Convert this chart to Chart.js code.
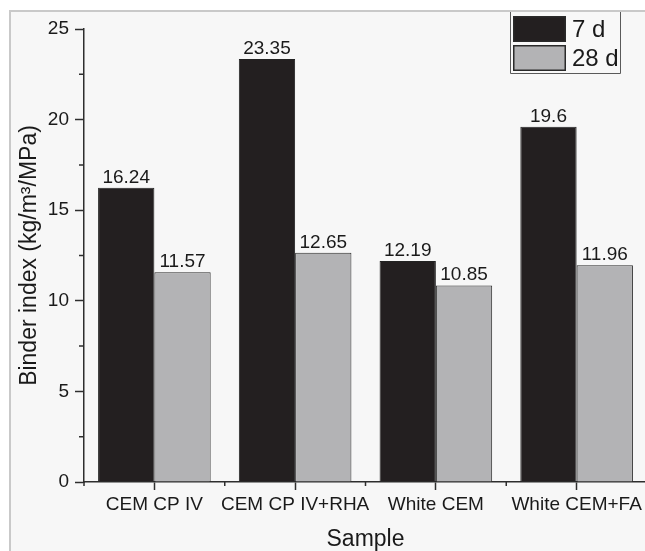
<!DOCTYPE html>
<html>
<head>
<meta charset="utf-8">
<script src="https://cdn.jsdelivr.net/npm/chart.js@4"></script>
<style>
  html, body { margin: 0; padding: 0; background: #ffffff; overflow: hidden; }
  #wrap { position: relative; width: 645px; height: 551px; overflow: hidden; }
  #frame {
    position: absolute; left: 9px; top: 10px; width: 640px; height: 545px;
    border-left: 2px solid #c9c9c9; border-top: 2px solid #c9c9c9;
    background: #f7f7f7;
  }
  #chart { position: absolute; left: 0; top: 0; }
</style>
</head>
<body>
<div id="wrap">
  <div id="frame"></div>
  <canvas id="chart" width="648" height="551"></canvas>
</div>
<script>
// Binder index per sample, at 7 and 28 days
const categories = ['CEM CP IV', 'CEM CP IV+RHA', 'White CEM', 'White CEM+FA'];
const seriesNames = ['7 d', '28 d'];
const values7d = [16.24, 23.35, 12.19, 19.6];
const values28d = [11.57, 12.65, 10.85, 11.96];
const yMin = 0, yMax = 25, yStep = 5;

const FONT = '"Liberation Sans", Arial, sans-serif';
const INK = '#1a1a1a';
const AXIS = '#2e2e2e';

// Minor ticks: category boundaries on x, half steps on y
const minorTicks = {
  id: 'minorTicks',
  afterDraw(chart) {
    const ctx = chart.ctx;
    const x = chart.scales.x, y = chart.scales.y;
    ctx.save();
    ctx.strokeStyle = AXIS;
    ctx.lineWidth = 1.5;
    ctx.beginPath();
    const n = categories.length;
    for (let i = 0; i < n; i++) {
      const px = i === 0 ? x.left : (x.getPixelForValue(i - 1) + x.getPixelForValue(i)) / 2;
      ctx.moveTo(px, y.bottom);
      ctx.lineTo(px, y.bottom + 4);
    }
    for (let v = yMin + yStep / 2; v < yMax; v += yStep) {
      const py = y.getPixelForValue(v);
      ctx.moveTo(y.right, py);
      ctx.lineTo(y.right - 5, py);
    }
    ctx.stroke();
    ctx.restore();
  }
};

// Value printed above each bar
const valueLabels = {
  id: 'valueLabels',
  afterDatasetsDraw(chart) {
    const ctx = chart.ctx;
    ctx.save();
    ctx.font = '19px ' + FONT;
    ctx.fillStyle = INK;
    ctx.textAlign = 'center';
    ctx.textBaseline = 'alphabetic';
    chart.data.datasets.forEach((ds, di) => {
      chart.getDatasetMeta(di).data.forEach((bar, i) => {
        ctx.fillText(String(ds.data[i]), bar.x, bar.y - 5);
      });
    });
    ctx.restore();
  }
};

// Boxed legend in the upper right of the plot
const boxLegend = {
  id: 'boxLegend',
  afterDraw(chart) {
    const ctx = chart.ctx;
    const left = 510, right = 620, top = 12, bottom = 73;
    ctx.save();
    ctx.fillStyle = '#f8f8f8';
    ctx.fillRect(left, top, right - left, bottom - top);
    ctx.strokeStyle = '#5a5a5a';
    ctx.lineWidth = 1;
    ctx.beginPath();
    ctx.moveTo(left + 0.5, top);
    ctx.lineTo(left + 0.5, bottom + 0.5);
    ctx.lineTo(right + 0.5, bottom + 0.5);
    ctx.lineTo(right + 0.5, top);
    ctx.stroke();
    ctx.font = '24px ' + FONT;
    ctx.textAlign = 'left';
    ctx.textBaseline = 'middle';
    chart.data.datasets.forEach((ds, i) => {
      const sy = 16 + i * 29;
      ctx.fillStyle = ds.backgroundColor;
      ctx.fillRect(513, sy, 53, 26);
      ctx.strokeStyle = '#2a2a2a';
      ctx.lineWidth = 1.5;
      ctx.strokeRect(513.75, sy + 0.75, 51.5, 24.5);
      ctx.fillStyle = INK;
      ctx.fillText(ds.label, 572, sy + 14);
    });
    ctx.restore();
  }
};

new Chart(document.getElementById('chart'), {
  type: 'bar',
  data: {
    labels: categories,
    datasets: [
      { label: seriesNames[0], data: values7d, backgroundColor: '#231f20', borderColor: '#222', borderWidth: 1 },
      { label: seriesNames[1], data: values28d, backgroundColor: '#b3b3b5', borderColor: '#2a2a2a', borderWidth: 1 }
    ]
  },
  options: {
    responsive: false,
    animation: false,
    devicePixelRatio: 1,
    layout: { padding: { top: 29, right: 1, left: 0, bottom: 0 } },
    datasets: { bar: { categoryPercentage: 0.8, barPercentage: 1.0 } },
    plugins: {
      legend: { display: false },
      tooltip: { enabled: false }
    },
    scales: {
      x: {
        offset: true,
        grid: { display: true, drawOnChartArea: false, drawTicks: true, tickLength: 8, tickColor: AXIS, tickWidth: 1.5, offset: false },
        border: { display: true, color: AXIS, width: 1.5 },
        ticks: { font: { family: FONT, size: 19 }, color: INK, padding: 3, maxRotation: 0, autoSkip: false },
        title: { display: true, text: 'Sample', color: INK, font: { family: FONT, size: 23, lineHeight: 1 }, padding: 0 },
        afterFit(s) { s.height = 69; }
      },
      y: {
        min: yMin, max: yMax,
        grid: { display: true, drawOnChartArea: false, drawTicks: true, tickLength: 9, tickColor: AXIS, tickWidth: 1.5 },
        border: { display: true, color: AXIS, width: 1.5 },
        ticks: { stepSize: yStep, font: { family: FONT, size: 19 }, color: INK, padding: 6 },
        title: { display: true, text: 'Binder index (kg/m³/MPa)', color: INK, font: { family: FONT, size: 23 }, padding: { top: 16, bottom: 0 } },
        afterFit(s) { s.width = 84; }
      }
    }
  },
  plugins: [minorTicks, valueLabels, boxLegend]
});
</script>
</body>
</html>
